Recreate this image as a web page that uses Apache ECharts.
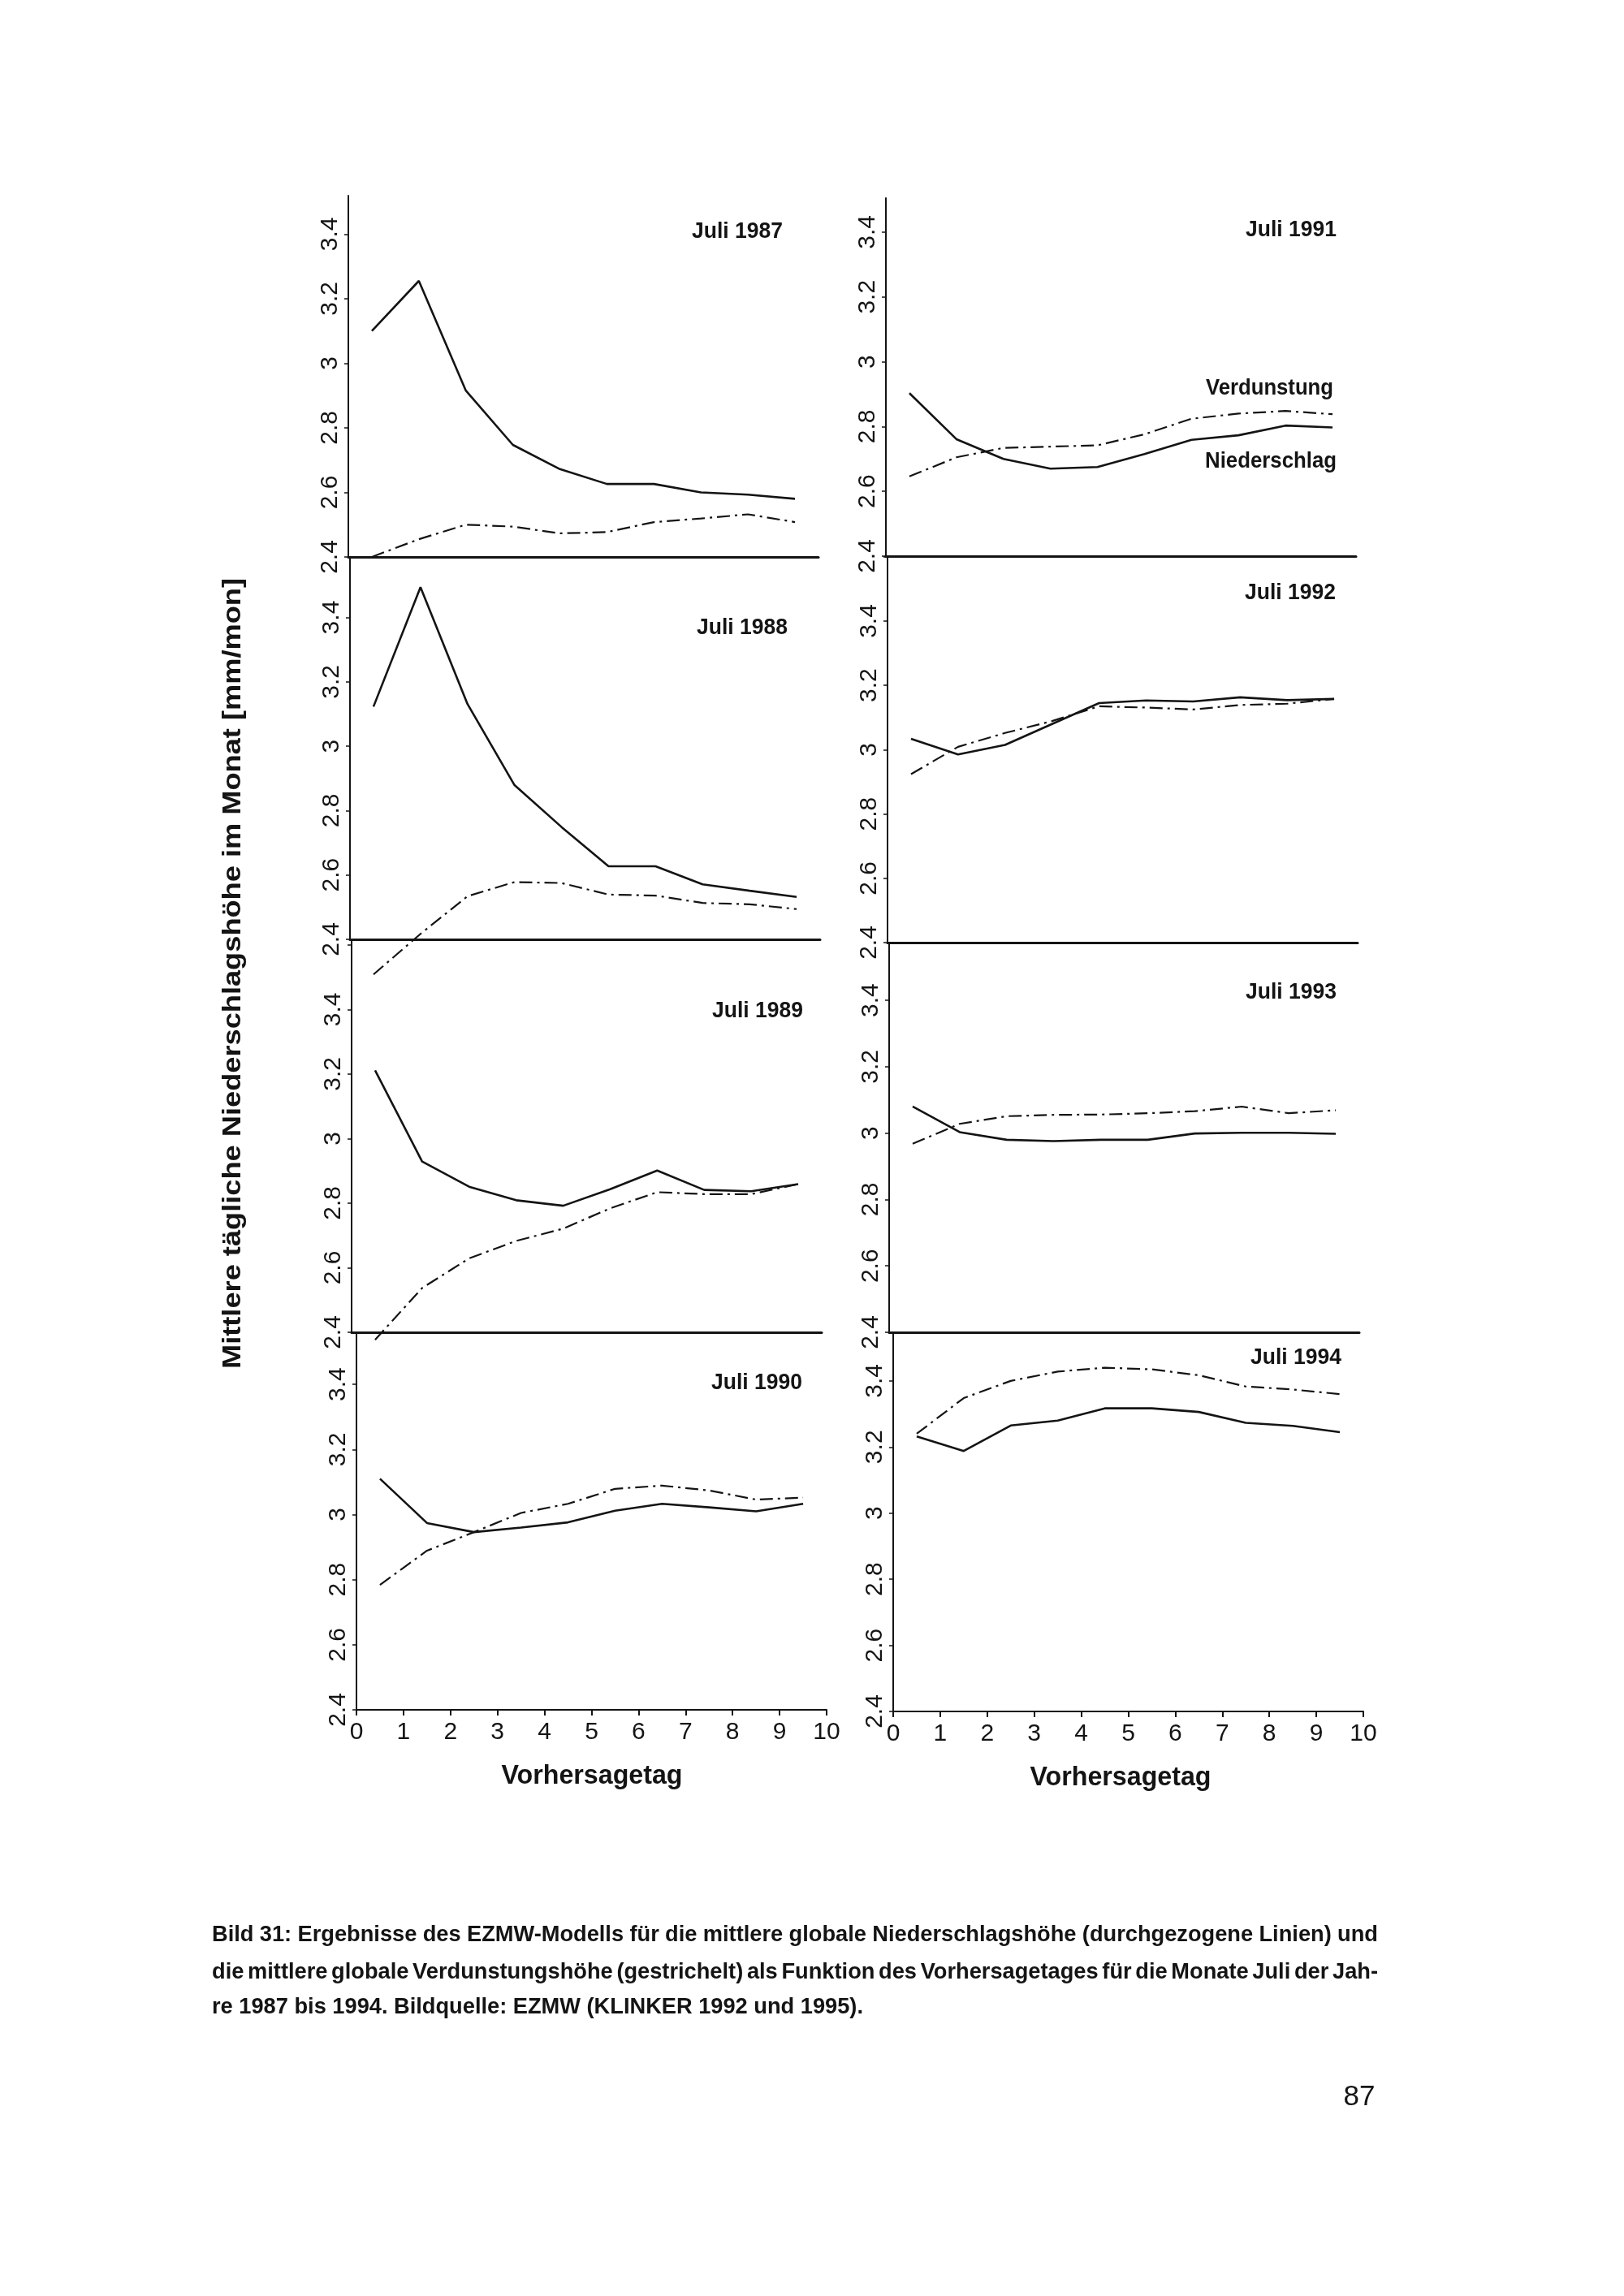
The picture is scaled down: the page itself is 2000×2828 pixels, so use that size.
<!DOCTYPE html>
<html><head><meta charset="utf-8">
<script src="https://cdn.jsdelivr.net/npm/echarts@6/dist/echarts.min.js"></script>
<style>html,body{margin:0;padding:0;background:#fff}#c{width:2000px;height:2828px}</style>
</head><body><div id="c"></div><script>
// ---------- data ----------
const days = [0.5, 1.5, 2.5, 3.5, 4.5, 5.5, 6.5, 7.5, 8.5, 9.5];
const yTickLabels = ['2.4','2.6','2.8','3','3.2','3.4'];
const years = ['1987','1988','1989','1990','1991','1992','1993','1994'];

const precip1987 = [3.100, 3.255, 2.915, 2.747, 2.672, 2.626, 2.626, 2.600, 2.593, 2.580];
const evap1987   = [2.400, 2.455, 2.500, 2.494, 2.473, 2.477, 2.508, 2.519, 2.532, 2.508];
const precip1988 = [3.123, 3.494, 3.131, 2.879, 2.749, 2.627, 2.627, 2.571, 2.551, 2.532];
const evap1988   = [2.291, 2.417, 2.534, 2.578, 2.575, 2.539, 2.536, 2.513, 2.509, 2.494];
const precip1989 = [3.211, 2.929, 2.851, 2.809, 2.792, 2.843, 2.901, 2.841, 2.837, 2.859];
const evap1989   = [2.377, 2.537, 2.629, 2.683, 2.721, 2.784, 2.834, 2.828, 2.828, 2.859];
const precip1990 = [3.110, 2.974, 2.946, 2.960, 2.976, 3.012, 3.033, 3.022, 3.010, 3.033];
const evap1990   = [2.784, 2.889, 2.946, 3.005, 3.033, 3.079, 3.089, 3.074, 3.046, 3.052];
const precip1991 = [2.903, 2.761, 2.700, 2.670, 2.675, 2.715, 2.759, 2.773, 2.803, 2.797];
const evap1991   = [2.646, 2.705, 2.734, 2.738, 2.742, 2.776, 2.824, 2.840, 2.848, 2.838];
const precip1992 = [3.034, 2.985, 3.015, 3.080, 3.145, 3.153, 3.150, 3.163, 3.154, 3.158];
const evap1992   = [2.924, 3.009, 3.052, 3.089, 3.135, 3.131, 3.125, 3.139, 3.143, 3.158];
const precip1993 = [3.080, 3.003, 2.980, 2.976, 2.980, 2.980, 2.999, 3.001, 3.001, 2.998];
const evap1993   = [2.968, 3.028, 3.051, 3.055, 3.056, 3.060, 3.066, 3.080, 3.060, 3.069];
const precip1994 = [3.232, 3.188, 3.265, 3.280, 3.317, 3.317, 3.306, 3.273, 3.264, 3.245];
const evap1994   = [3.240, 3.348, 3.400, 3.428, 3.440, 3.435, 3.417, 3.383, 3.374, 3.360];

const precipByYear = [precip1987, precip1988, precip1989, precip1990, precip1991, precip1992, precip1993, precip1994];
const evapByYear   = [evap1987, evap1988, evap1989, evap1990, evap1991, evap1992, evap1993, evap1994];

const panelTitles = ['Juli 1987','Juli 1988','Juli 1989','Juli 1990','Juli 1991','Juli 1992','Juli 1993','Juli 1994'];
const seriesNames = ['Niederschlag','Verdunstung'];
const yAxisTitle = 'Mittlere tägliche Niederschlagshöhe im Monat [mm/mon]';
const xAxisTitle = 'Vorhersagetag';
const captionLines = [
  'Bild 31:  Ergebnisse des EZMW-Modells für die mittlere globale Niederschlagshöhe (durchgezogene Linien) und',
  'die mittlere globale Verdunstungshöhe (gestrichelt) als Funktion des Vorhersagetages für die Monate Juli der Jah-',
  're 1987 bis 1994. Bildquelle: EZMW (KLINKER 1992 und 1995).'
];
const pageNumber = '87';

// ---------- layout ----------
const Y_MIN = 2.4, Y_STEP = 0.2, X_MIN = 0, X_MAX = 10;
const PANEL_W = 579;
const panels = [
  {left: 429,  top: 241,  bottom: 686,  ppu: 397.5, last: false, tx: 964,  ty: 285},
  {left: 431,  top: 686,  bottom: 1157, ppu: 396.5, last: false, tx: 970,  ty: 773},
  {left: 433,  top: 1157, bottom: 1641, ppu: 397.7, last: false, tx: 989,  ty: 1245},
  {left: 439,  top: 1641, bottom: 2106, ppu: 401,   last: true,  tx: 988,  ty: 1703},
  {left: 1091, top: 244,  bottom: 685,  ppu: 399,   last: false, tx: 1646, ty: 283},
  {left: 1093, top: 685,  bottom: 1161, ppu: 396,   last: false, tx: 1645, ty: 730},
  {left: 1095, top: 1161, bottom: 1641, ppu: 408.7, last: false, tx: 1646, ty: 1222},
  {left: 1100, top: 1641, bottom: 2108, ppu: 407,   last: true,  tx: 1652, ty: 1672}
];
const INK = '#141414';
const SANS = "'Liberation Sans', Arial, Helvetica, sans-serif";

// text measurement (for condensed look via scaleX)
const mctx = document.createElement('canvas').getContext('2d');
function measure(text, size, weight) {
  mctx.font = weight + ' ' + size + 'px ' + SANS;
  return mctx.measureText(text).width;
}
function txt(text, x, y, size, weight, align, targetW, extra) {
  const sx = targetW ? targetW / measure(text, size, weight) : 1;
  return Object.assign({
    type: 'text', x: x, y: y, scaleX: sx, silent: true,
    style: {text: text, fontSize: size, fontWeight: weight, fontFamily: SANS,
            fill: INK, textAlign: align, textVerticalAlign: 'middle', verticalAlign: 'middle'}
  }, extra || {});
}

const grids = [], xAxes = [], yAxes = [], series = [], graphics = [];

panels.forEach((p, i) => {
  const yMax = Math.round((Y_MIN + (p.bottom - p.top) / p.ppu) * 1000) / 1000;
  grids.push({left: p.left, top: p.top, width: PANEL_W, height: p.bottom - p.top, containLabel: false});
  xAxes.push({
    type: 'value', gridIndex: i, min: X_MIN, max: X_MAX, interval: 1,
    axisLine: {show: true, onZero: false, lineStyle: {color: INK, width: p.last ? 2 : 3}},
    axisTick: {show: p.last, inside: false, length: 7, lineStyle: {color: INK, width: 2}},
    axisLabel: {show: p.last, margin: 13, fontSize: 30, fontFamily: SANS, color: INK},
    splitLine: {show: false}
  });
  yAxes.push({
    type: 'value', gridIndex: i, min: Y_MIN, max: yMax, interval: Y_STEP,
    axisLine: {show: true, onZero: false, lineStyle: {color: INK, width: 2}},
    axisTick: {show: true, inside: false, length: 5, lineStyle: {color: INK, width: 1.5}},
    axisLabel: {
      show: true, rotate: 90, margin: 7, fontSize: 30, fontFamily: SANS, color: INK,
      showMaxLabel: false,
      formatter: v => {
        const r = Math.round(v * 10) / 10;
        const idx = Math.round((r - Y_MIN) / Y_STEP);
        if (Math.abs(v - r) > 1e-6 || idx < 0 || idx >= yTickLabels.length) return '';
        return yTickLabels[idx];
      }
    },
    splitLine: {show: false}
  });
  series.push({
    name: seriesNames[0] + ' ' + years[i], type: 'line', xAxisIndex: i, yAxisIndex: i,
    data: days.map((d, k) => [d, precipByYear[i][k]]),
    symbol: 'none', clip: false, smooth: false,
    lineStyle: {color: INK, width: 2.6, type: 'solid'}
  });
  series.push({
    name: seriesNames[1] + ' ' + years[i], type: 'line', xAxisIndex: i, yAxisIndex: i,
    data: days.map((d, k) => [d, evapByYear[i][k]]),
    symbol: 'none', clip: false, smooth: false,
    lineStyle: {color: INK, width: 2.2, type: [16, 6, 3, 6]}
  });
  graphics.push(txt(panelTitles[i], p.tx, p.ty, 28, 'bold', 'right', 112));
});

// in-plot series labels (1991 panel)
graphics.push(txt(seriesNames[1], 1642, 478, 28, 'bold', 'right', 157));
graphics.push(txt(seriesNames[0], 1646, 568, 28, 'bold', 'right', 162));

// axis titles
graphics.push(txt(xAxisTitle, 729, 2188, 33, 'bold', 'center', 223));
graphics.push(txt(xAxisTitle, 1380, 2190, 33, 'bold', 'center', 223));
graphics.push(txt(yAxisTitle, 287, 1199, 32, 'bold', 'center', 974, {rotation: Math.PI / 2}));

// caption: lines 1-2 justified, line 3 ragged
const capX0 = 261, capX1 = 1697, capYs = [2384, 2430, 2473], capSize = 27;
const capScale = 802 / measure(captionLines[2], capSize, 'bold');
captionLines.forEach((line, li) => {
  const words = line.split(/ +/);
  const justify = li < 2;
  const widths = words.map(w => measure(w, capSize, 'bold') * capScale);
  const total = widths.reduce((a, b) => a + b, 0);
  const gap = justify ? ((capX1 - capX0) - total) / (words.length - 1)
                      : measure(' ', capSize, 'bold') * capScale;
  let x = capX0;
  words.forEach((w, k) => {
    graphics.push(txt(w, x, capYs[li], capSize, 'bold', 'left', widths[k]));
    x += widths[k] + gap;
  });
});

// page number
graphics.push(txt(pageNumber, 1674, 2583, 35, 'normal', 'center', 0));

const chart = echarts.init(document.getElementById('c'), null, {renderer: 'canvas', width: 2000, height: 2828});
chart.setOption({
  backgroundColor: '#ffffff',
  animation: false,
  grid: grids,
  xAxis: xAxes,
  yAxis: yAxes,
  series: series,
  graphic: graphics
});
</script></body></html>
